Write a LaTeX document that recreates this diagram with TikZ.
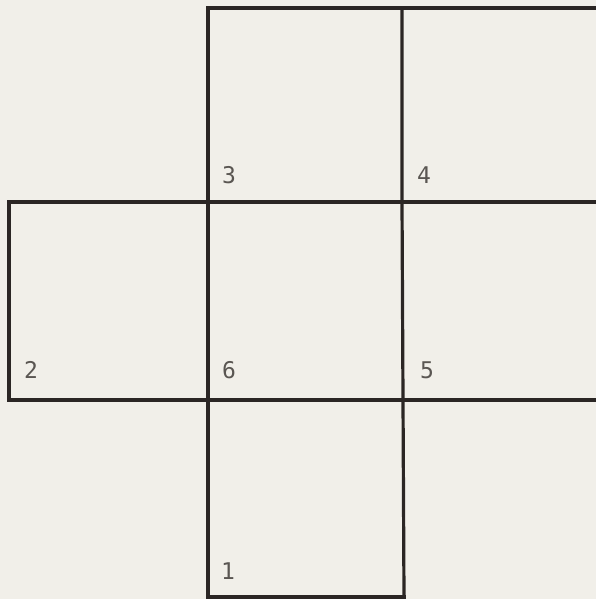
\documentclass[tikz,border=0pt]{standalone}
\usepackage{fontspec}
\setmonofont{DejaVu Sans Mono}
\definecolor{paper}{HTML}{F1EFE9}
\definecolor{ink}{HTML}{2B2624}
\definecolor{labelink}{HTML}{5A5652}
\begin{document}
\begin{tikzpicture}[x=1pt,y=-1pt,
  edge/.style={draw=ink,line width=3.2pt,line cap=rect,line join=miter},
  facelabel/.style={font=\ttfamily\fontsize{23}{23}\selectfont,text=labelink,inner sep=0pt,anchor=base west}]
\fill[paper] (0,0) rectangle (596,599);
\useasboundingbox (0,0) rectangle (596,599);
% grid coordinates
\coordinate (a) at (208,8);
\coordinate (b) at (402,8);
\coordinate (c) at (598,8);
\coordinate (d) at (9,202);
\coordinate (e) at (208,202);
\coordinate (f) at (402,202);
\coordinate (g) at (598,202);
\coordinate (h) at (9,400);
\coordinate (i) at (208,400);
\coordinate (j) at (403,400);
\coordinate (k) at (598,400);
\coordinate (l) at (208,597);
\coordinate (m) at (404,597);
% edges
\draw[edge] (a) -- (c);
\draw[edge] (d) -- (g);
\draw[edge] (h) -- (k);
\draw[edge] (l) -- (m);
\draw[edge] (a) -- (l);
\draw[edge] (b) -- (f) -- (j) -- (m);
\draw[edge] (d) -- (h);
% labels
\node[facelabel] (n3) at (222,183) {3};
\node[facelabel] (n4) at (417,183) {4};
\node[facelabel] (n2) at (24,378) {2};
\node[facelabel] (n6) at (222,378) {6};
\node[facelabel] (n5) at (420,378) {5};
\node[facelabel] (n1) at (221,579) {1};
\end{tikzpicture}
\end{document}
